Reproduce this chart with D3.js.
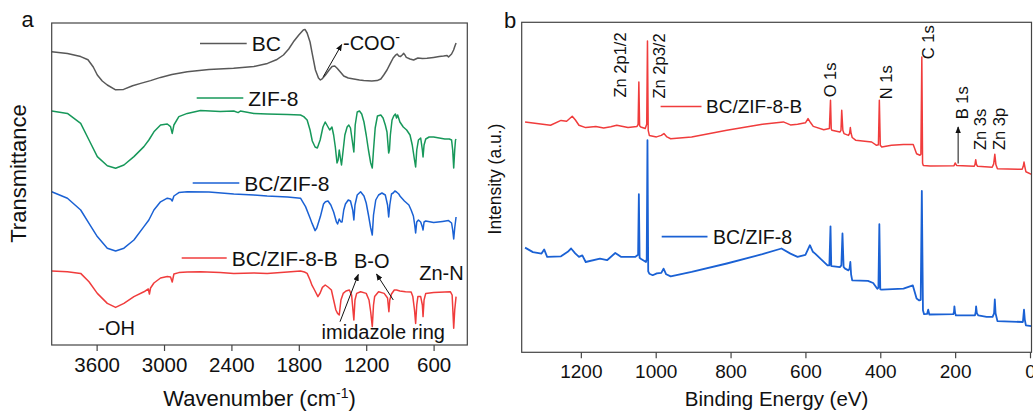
<!DOCTYPE html>
<html>
<head>
<meta charset="utf-8">
<script src="https://cdn.jsdelivr.net/npm/d3@7"></script>
<style>
  html, body { margin: 0; padding: 0; background: #fff; }
  svg { display: block; font-family: "Liberation Sans", Arial, Helvetica, sans-serif; }
</style>
</head>
<body>
<svg id="chart" width="1033" height="414"></svg>
<script>
// ---------- (a) FTIR spectra: [wavenumber (cm-1), offset transmittance (a.u.)] ----------
const ftirBC = [
  [4000,73.3],[3860,72.9],[3742,72.1],[3677,71.3],[3630,69.5],[3594,67.5],[3550,66],[3505,65],
  [3431,63.8],[3360,63.9],[3280,64.8],[3208,65.4],[3120,66.1],[3031,66.9],[2930,67.6],[2793,68.3],
  [2600,68.9],[2381,69.2],[2200,69.6],[2079,70.4],[2000,71.3],[1937,72.5],[1890,74],[1848,75.8],
  [1800,77.5],[1760,78.75],[1745,78.9],[1726,78],[1700,75.75],[1681,72.9],[1652,68.75],[1625,66.75],
  [1608,66.25],[1590,66.6],[1563,67.5],[1530,68.75],[1504,69.6],[1480,69.75],[1459,69.2],[1430,68.25],
  [1400,67.25],[1360,66.75],[1311,66.5],[1260,66.25],[1222,66.1],[1150,66],[1103,66.1],[1070,66.5],
  [1044,67.5],[1015,68.75],[985,70.4],[960,71.75],[941,72.4],[925,72.75],[910,72.25],[896,72.1],
  [880,72.5],[866,72.9],[855,72.5],[843,71.9],[810,71.5],[778,71.25],[740,71.75],[700,71.6],
  [659,71.7],[600,71.9],[550,72.1],[511,72.25],[480,72.4],[467,72],[440,72.75],[422,73.75],
  [410,74.75],[400,75.5]
];
const ftirZIF8 = [
  [4000,58.5],[3860,57.9],[3742,55.4],[3668,51.25],[3594,47.1],[3505,44.8],[3431,44.2],[3357,45],
  [3268,47.1],[3179,49.6],[3135,51.25],[3090,53.3],[3031,55],[2971,55.25],[2942,54.6],[2927,52.9],
  [2912,55],[2868,57.1],[2793,57.9],[2675,58.6],[2500,58.4],[2379,58.5],[2340,58.1],[2320,58.5],
  [2200,57.9],[2082,57.75],[1900,57.6],[1785,57.5],[1756,57.1],[1726,56.25],[1700,53.75],[1680,51],
  [1655,49.5],[1635,49.25],[1610,51.25],[1585,54.5],[1565,55.75],[1545,54.75],[1525,53.75],[1505,54.5],
  [1490,52.5],[1475,49.5],[1460,45.5],[1450,46.25],[1440,48.75],[1430,46.75],[1420,45],[1405,48.75],
  [1390,52.5],[1370,54.5],[1355,55],[1340,54.25],[1325,51.25],[1310,48.25],[1298,55],[1280,58.25],
  [1260,58.5],[1240,57.75],[1220,55.75],[1200,52.5],[1180,48.75],[1160,45.5],[1146,44.25],[1135,48.75],
  [1120,54.25],[1100,57.25],[1070,57.5],[1050,56.75],[1030,55],[1015,53.25],[1000,48],[993,48.75],
  [985,52.5],[970,56.25],[955,57.25],[940,57.75],[930,56.75],[920,57.5],[900,55.75],[870,54.5],
  [840,53.75],[810,52.5],[790,50],[770,46.25],[760,44.5],[750,48.75],[735,51.25],[715,51.75],
  [700,48.75],[694,47],[685,50],[670,51.5],[640,52],[600,52],[550,51.75],[500,51.5],
  [460,51.5],[440,51.25],[430,48.75],[421,44.25],[412,48.75],[405,51.25],[400,51.5]
];
const ftirBCZIF8 = [
  [4000,38.3],[3860,36.7],[3742,33.75],[3668,30.4],[3594,27.1],[3505,24.2],[3431,23.5],[3357,24.2],
  [3268,26.25],[3179,29.6],[3135,31.25],[3090,33.75],[3031,35.8],[2971,36.7],[2940,36.5],[2927,36],
  [2912,37.25],[2868,38.1],[2793,38.3],[2600,38.25],[2379,37.75],[2200,37.5],[2082,37.25],[1900,37],
  [1785,36.7],[1740,34.6],[1700,31.75],[1682,30.4],[1655,28.6],[1640,29.25],[1608,32.1],[1580,35.25],
  [1563,35.8],[1540,36],[1515,35],[1490,33.25],[1465,30.75],[1455,30.25],[1440,31.5],[1425,30.75],
  [1415,30.75],[1400,33.75],[1385,35.25],[1360,36.25],[1340,36],[1320,33.75],[1310,31.25],[1300,35],
  [1280,37.5],[1250,38.3],[1220,37.25],[1200,35.5],[1180,32.5],[1160,29.25],[1146,27.5],[1135,32.5],
  [1115,36.25],[1090,37.5],[1060,38],[1030,37.5],[1010,35],[1000,32],[990,35],[975,37.75],
  [960,38],[945,38.5],[930,38.25],[910,37.75],[896,37.1],[860,36],[820,35],[800,33.75],
  [780,32.25],[768,30],[760,28],[750,30.75],[735,31.25],[715,30.75],[700,29.5],[694,28.75],
  [685,30.75],[670,31],[600,30.6],[520,30.9],[467,31.1],[440,30.5],[430,28.75],[421,26.5],
  [412,29.25],[400,32]
];
const ftirBCZIF8B = [
  [4000,18.5],[3860,18.3],[3742,17.9],[3668,15.8],[3594,12.9],[3505,10.4],[3431,9.4],[3357,10.4],
  [3268,12.1],[3179,13.3],[3140,14],[3130,12.75],[3120,14.25],[3090,15.5],[3031,16.75],[2971,17.1],
  [2942,17],[2927,15.75],[2912,17.75],[2868,18.1],[2793,18.25],[2675,18.3],[2500,18.1],[2379,17.9],
  [2200,18],[2082,17.9],[1900,18.25],[1785,18.5],[1750,18.25],[1726,17.9],[1700,16.25],[1682,14.9],
  [1660,13.75],[1630,12.1],[1610,13],[1590,14.4],[1565,15],[1540,14.5],[1510,13.75],[1490,11.25],
  [1470,8.75],[1455,7.9],[1440,7.5],[1425,11.25],[1405,12.9],[1380,13.5],[1350,13.75],[1330,12.5],
  [1310,6.25],[1300,11.25],[1285,12.9],[1250,13.3],[1200,12.9],[1175,11.25],[1160,8.25],[1146,4.6],
  [1135,10],[1125,12.1],[1090,13.3],[1040,12.9],[1010,11.75],[998,8.3],[990,11.25],[975,12.75],
  [950,13.75],[930,13.75],[900,13.5],[850,13.3],[800,13.25],[785,12.1],[770,8.75],[760,5.4],
  [750,10],[740,12.1],[715,12.1],[700,10],[694,7.1],[685,11.25],[670,12.9],[600,13.1],
  [500,13.25],[450,13.3],[435,12.5],[421,4.2],[412,8.75],[400,12.1]
];
const ftirSeriesNames = ["BC", "ZIF-8", "BC/ZIF-8", "BC/ZIF-8-B"];
const ftirTicks = [3600, 3000, 2400, 1800, 1200, 600];

// ---------- (b) XPS survey spectra: [binding energy (eV), offset intensity (a.u.)] ----------
const xpsBCZIF8B = [
  [1349,76.8],[1281,75.7],[1253,77.3],[1238,77],[1223,78.7],[1215,77.5],[1205,75.7],[1187,74.9],
  [1160,75.3],[1139,74.8],[1120,75.2],[1104,75.7],[1074,74.9],[1050,75.3],[1047,76],[1045,90.1],
  [1043,75.5],[1040,75.1],[1028,74.6],[1024,76],[1022,103.8],[1020,74],[1017,72.3],[998,71.8],
  [985,72.3],[978,72.9],[970,71.8],[960,71.2],[904,71.8],[810,74],[715,76],[659,76.8],
  [640,75.8],[621,76],[600,76.5],[593,77.9],[586,76.5],[579,75.3],[551,74.2],[536,74.6],
  [533,84],[531,74.5],[529,74],[508,73.4],[505,74],[503,80.7],[500,74],[497,72.9],
  [485,72.3],[482,73],[480,74.9],[478,73],[475,71.6],[466,70.7],[423,70.1],[410,69],
  [405,69.2],[402.5,84],[400,69],[396,68.4],[370,69],[338,69.3],[312,69.3],[303,66.2],
  [294,65.7],[291.5,66],[289,98.4],[287,63],[285,62.3],[267,62.1],[203,62.2],[200,63.1],
  [196,62.3],[149,62],[147,62.6],[145,64.2],[143,62.6],[140,62],[101,61.7],[97,62.8],
  [94,66],[91,62.5],[87,61.2],[21,61],[18,62],[16,63.4],[14,62],[11,60.2],[-4,59.3]
];
const xpsBCZIF8 = [
  [1349,34.9],[1328,33.4],[1305,32.9],[1298,34.3],[1290,31.8],[1253,32],[1235,33.5],[1226,34.6],
  [1215,33],[1205,31.8],[1196,32.3],[1187,30.1],[1149,31.2],[1130,30.7],[1108,33.1],[1092,31.8],
  [1055,31.8],[1047,32.5],[1045,52.7],[1043,31.5],[1040,31.2],[1026,30.1],[1024,31],[1022,70.7],
  [1020,27],[1017,26.2],[1008,25.7],[997,26.3],[985,26.5],[979,27.9],[972,26],[960,25.3],
  [904,26.8],[810,29.6],[715,32.7],[664,34.6],[640,32.9],[621,31.8],[600,32.5],[588,35.7],
  [580,33.5],[574,32.9],[560,31.2],[541,29],[536,29],[533,42],[531,28.8],[529,28.7],
  [508,28.4],[504,29],[501,39.6],[498,28.5],[494,27.9],[485,27.3],[482,28],[480,30.1],
  [478,26],[475,24],[433,23.8],[419,23.1],[408,21.2],[405,21.5],[402.5,42.7],[400,21],
  [396,20.9],[338,21.2],[313,22.3],[303,17.9],[296,17.3],[292,17.5],[289,53.8],[286,14],
  [283,12.7],[275,12.8],[272,14.2],[269,12.6],[205,12.7],[203,13.5],[202,15.3],[200,13],
  [198,12.3],[147,12.3],[145,13.5],[144,15.3],[142,13],[138,12.3],[116,11.8],[100,11.8],
  [96,13],[94,17.6],[92,13],[87,10.4],[19,10.1],[18,11.5],[16,14.2],[14,11],[11,9],[-4,8.7]
];
const xpsSeriesNames = ["BC/ZIF-8-B", "BC/ZIF-8"];
const xpsTicks = [1200, 1000, 800, 600, 400, 200, 0];
const xpsPeakNames = ["Zn 2p1/2", "Zn 2p3/2", "O 1s", "N 1s", "C 1s", "B 1s", "Zn 3s", "Zn 3p"];
const xpsPeakEnergies = [1045, 1022, 533, 402.5, 289, 192, 145, 94];

// ---------- drawing ----------
const svg = d3.select("#chart");
const FRAME = "#444";
const C = { gray: "#585858", green: "#17985a", blue: "#1a61d4", red: "#f03c3c" };

const defs = svg.append("defs");
defs.append("marker")
  .attr("id", "arrowhead")
  .attr("viewBox", "0 0 10 8")
  .attr("refX", 9).attr("refY", 4)
  .attr("markerWidth", 7).attr("markerHeight", 6)
  .attr("markerUnits", "userSpaceOnUse")
  .attr("orient", "auto")
  .append("path").attr("d", "M0,0 L10,4 L0,8 Z").attr("fill", "#111");

function frame(g, x, y) {
  const [x0, x1] = x.range(), [y0, y1] = y.range();
  g.append("rect")
    .attr("x", Math.min(x0, x1)).attr("y", Math.min(y0, y1))
    .attr("width", Math.abs(x1 - x0)).attr("height", Math.abs(y1 - y0))
    .attr("fill", "none").attr("stroke", FRAME).attr("stroke-width", 1.2);
}

function bottomAxis(g, x, yPix, ticks, fontSize, pad) {
  const ax = g.append("g").attr("transform", `translate(0,${yPix})`)
    .call(d3.axisBottom(x).tickValues(ticks).tickSize(6).tickPadding(pad).tickFormat(d3.format("d")));
  ax.select(".domain").remove();
  ax.selectAll("line").attr("stroke", FRAME).attr("stroke-width", 1.2);
  ax.selectAll("text").attr("font-size", fontSize).attr("fill", "#111")
    .attr("font-family", '"Liberation Sans", Arial, sans-serif');
}

function drawLine(g, x, y, data, color, width) {
  g.append("path").datum(data)
    .attr("fill", "none").attr("stroke", color).attr("stroke-width", width)
    .attr("stroke-linejoin", "round")
    .attr("d", d3.line().x(d => x(d[0])).y(d => y(d[1])));
}

function label(g, x, y, txt, size, anchor) {
  return g.append("text").attr("x", x).attr("y", y).attr("font-size", size)
    .attr("fill", "#111").attr("text-anchor", anchor || "start").text(txt);
}

function legendEntry(g, x0, x1, y, color, txt, size, gap, width) {
  g.append("line").attr("x1", x0).attr("x2", x1).attr("y1", y).attr("y2", y)
    .attr("stroke", color).attr("stroke-width", width);
  label(g, x1 + gap, y + size * 0.36, txt, size);
}

// ===== panel (a) =====
const ga = svg.append("g");
const xa = d3.scaleLinear().domain([4000, 300]).range([51.7, 467.3]);
const ya = d3.scaleLinear().domain([0, 80.5]).range([345, 23]);

const ftirData = [ftirBC, ftirZIF8, ftirBCZIF8, ftirBCZIF8B];
const ftirColors = [C.gray, C.green, C.blue, C.red];
ftirData.forEach((d, i) => drawLine(ga, xa, ya, d, ftirColors[i], 1.5));
frame(ga, xa, ya);
bottomAxis(ga, xa, 345, ftirTicks, 20.5, 6);

// legend entries sit just above each trace
const legA = [[200, 246.7, 43.5], [196.7, 243.3, 98], [192.7, 239.3, 183], [181.7, 226.7, 258]];
ftirSeriesNames.forEach((n, i) => legendEntry(ga, legA[i][0], legA[i][1], legA[i][2], ftirColors[i], n, 21, 5, 1.5));

// band assignments
const coo = ga.append("text").attr("x", 343).attr("y", 50).attr("font-size", 20).attr("fill", "#111");
coo.append("tspan").text("-COO");
coo.append("tspan").attr("dy", -8).attr("font-size", 14).text("-");
ga.append("line").attr("x1", 323.3).attr("y1", 76.7).attr("x2", 341.7).attr("y2", 44.5)
  .attr("stroke", "#111").attr("stroke-width", 1).attr("marker-end", "url(#arrowhead)");

label(ga, xa(3431) + 1, 335, "-OH", 20, "middle");
label(ga, 371.7, 267.5, "B-O", 20, "middle");
label(ga, 383.3, 338.5, "imidazole ring", 20, "middle");
label(ga, 441.5, 279.5, "Zn-N", 20, "middle");
ga.append("line").attr("x1", 340).attr("y1", 321.7).attr("x2", 358.3).attr("y2", 274.5)
  .attr("stroke", "#111").attr("stroke-width", 1).attr("marker-end", "url(#arrowhead)");
ga.append("line").attr("x1", 393.3).attr("y1", 300).attr("x2", 376.5).attr("y2", 274)
  .attr("stroke", "#111").attr("stroke-width", 1).attr("marker-end", "url(#arrowhead)");

// titles
label(svg, 27.5, 27, "a", 22, "middle");
svg.append("text").attr("transform", "translate(25.5,173.5) rotate(-90)")
  .attr("text-anchor", "middle").attr("font-size", 22).attr("fill", "#111").text("Transmittance");
const xt = svg.append("text").attr("x", (51.7 + 467.3) / 2).attr("y", 406)
  .attr("text-anchor", "middle").attr("font-size", 22).attr("fill", "#111");
xt.append("tspan").text("Wavenumber (cm");
xt.append("tspan").attr("dy", -8).attr("font-size", 14).text("-1");
xt.append("tspan").attr("dy", 8).text(")");

// ===== panel (b) =====
const gb = svg.append("g");
const xb = d3.scaleLinear().domain([1358, -4]).range([521.7, 1031.5]);
const yb = d3.scaleLinear().domain([0, 110]).range([352.3, 22.3]);

drawLine(gb, xb, yb, xpsBCZIF8B, C.red, 1.5);
drawLine(gb, xb, yb, xpsBCZIF8, C.blue, 1.8);
frame(gb, xb, yb);
bottomAxis(gb, xb, 352.3, xpsTicks, 19, 6.5);

legendEntry(gb, 660.6, 701.5, 106.5, C.red, xpsSeriesNames[0], 19, 4.5, 1.5);
legendEntry(gb, 661.7, 707.5, 236.7, C.blue, xpsSeriesNames[1], 19.5, 5.5, 1.8);

// peak labels: offset from the peak position and their lower end
const peakDx = [-12.4, 18, 6, 12.4, 12.2, 9.4, 10.1, 10];
const peakBottom = [97.5, 98.5, 97.3, 99.3, 59.3, 119.3, 150, 150];
xpsPeakNames.forEach((n, i) => {
  gb.append("text")
    .attr("transform", `translate(${xb(xpsPeakEnergies[i]) + peakDx[i]},${peakBottom[i]}) rotate(-90)`)
    .attr("font-size", 16.5).attr("fill", "#111").text(n);
});
gb.append("line").attr("x1", xb(192)).attr("x2", xb(192)).attr("y1", 163.5).attr("y2", 127)
  .attr("stroke", "#111").attr("stroke-width", 1).attr("marker-end", "url(#arrowhead)");

label(svg, 510, 28, "b", 22, "middle");
svg.append("text").attr("transform", "translate(500.5,179) rotate(-90)")
  .attr("text-anchor", "middle").attr("font-size", 17.5).attr("fill", "#111").text("Intensity (a.u.)");
label(svg, (521.7 + 1031.5) / 2, 406, "Binding Energy (eV)", 20.5, "middle");
</script>
</body>
</html>
